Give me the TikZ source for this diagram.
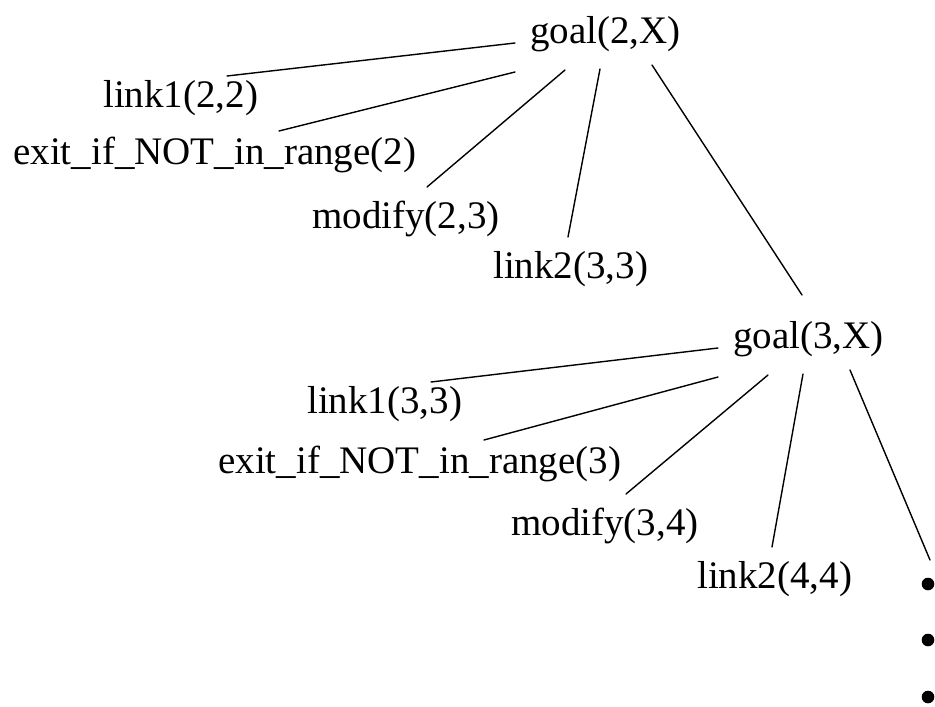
\documentclass[tikz,border=0pt]{standalone}
\usepackage{fontspec}
\setmainfont{Liberation Serif}
\usepackage{tikz}
\usetikzlibrary{calc}

\begin{document}
\begin{tikzpicture}[x=1pt,y=-1pt,
    every node/.style={font=\fontsize{39}{46}\selectfont,inner sep=0pt,anchor=base west},
    branch/.style={line width=1.4pt,line cap=round}]
  \useasboundingbox (0,0) rectangle (935,707);

  % first level
  \node (g2)       at (530,43)  {goal(2,X)};
  \node (link1a)   at (103,107) {link1(2,2)};
  \node (exita)    at (13,164)  {exit\_if\_NOT\_in\_range(2)};
  \node (modifya)  at (312,228) {modify(2,3)};
  \node (link2a)   at (493,278) {link2(3,3)};

  % second level
  \node (g3)       at (733,348) {goal(3,X)};
  \node (link1b)   at (307,413) {link1(3,3)};
  \node (exitb)    at (218,473) {exit\_if\_NOT\_in\_range(3)};
  \node (modifyb)  at (511,535) {modify(3,4)};
  \node (link2b)   at (697,588) {link2(4,4)};

  % and so on
  \foreach \y [count=\i] in {584,640,697}
    \fill (928,\y) circle[radius=6.3] coordinate (d\i);

  \foreach \g/\s in {g2/a,g3/b} {
    \draw[branch] ($(\g.base west)+(-15,0)$)  -- ($(link1\s.base west)+(124,-31)$);
    \draw[branch] ($(\g.base west)+(-15,29)$) -- ($(exit\s.base west)+(266,-33)$);
    \draw[branch] ($(\g.base west)+(35,27)$)  -- ($(modify\s.base west)+(115,-41)$);
    \draw[branch] ($(\g.base west)+(70,26)$)  -- ($(link2\s.base west)+(75,-41)$);
  }
  \draw[branch] ($(g2.base west)+(122,22)$) -- ($(g3.base west)+(69,-53)$);
  \draw[branch] ($(g3.base west)+(117,22)$) -- ($(d1)+(2,-24)$);
\end{tikzpicture}
\end{document}
